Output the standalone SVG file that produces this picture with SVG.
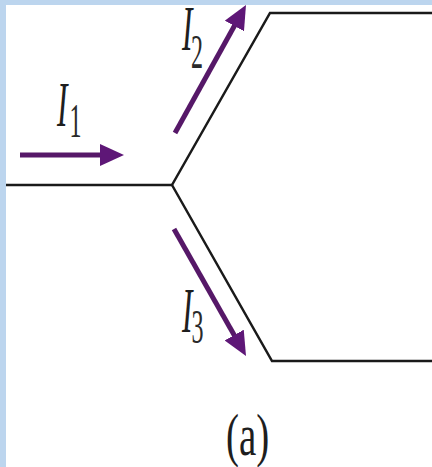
<svg xmlns="http://www.w3.org/2000/svg" width="432" height="467" viewBox="0 0 432 467">
  <defs>
    <style>
      .wire { fill: none; stroke: #1a1a1a; stroke-width: 2.5; stroke-linejoin: miter; }
      .cur { stroke: #561868; stroke-width: 5; stroke-linecap: butt; fill: none; }
      .lbl { font-family: "Liberation Serif", "Times New Roman", serif; font-style: italic; font-size: 42px; fill: #1e1e1e; }
      .sub { font-family: "Liberation Serif", "Times New Roman", serif; font-size: 32px; fill: #2a2a2a; }
      .cap { font-family: "Liberation Serif", "Times New Roman", serif; font-size: 39px; fill: #1e1e1e; }
    </style>
    <marker id="head" viewBox="0 0 24 22" refX="10" refY="11" markerWidth="24" markerHeight="22" markerUnits="userSpaceOnUse" orient="auto">
      <path d="M0,0 L24,11 L0,22 Z" fill="#5e1777"/>
    </marker>
  </defs>

  <rect x="0" y="0" width="432" height="467" fill="#ffffff"/>

  <g id="connectors">
    <path id="wire-in" class="wire" d="M6,185 L172,185"/>
    <path id="wire-up" class="wire" d="M172,185 L270,13 L432,13"/>
    <path id="wire-down" class="wire" d="M172,185 L272,361 L432,361"/>
    <line id="arrow-i1" class="cur" x1="20" y1="155" x2="110" y2="155" marker-end="url(#head)"/>
    <line id="arrow-i2" class="cur" x1="175" y1="133" x2="239.2" y2="17.2" marker-end="url(#head)"/>
    <line id="arrow-i3" class="cur" x1="174" y1="229" x2="239.1" y2="343.8" marker-end="url(#head)"/>
  </g>

  <g id="label-i1">
    <text class="lbl" transform="translate(57,126) scale(0.75,1.5)">I</text>
    <text class="sub" transform="translate(69.5,137) scale(0.75,1.5)">1</text>
  </g>
  <g id="label-i2">
    <text class="lbl" transform="translate(182,50) scale(0.75,1.5)">I</text>
    <text class="sub" transform="translate(191,68) scale(0.75,1.5)">2</text>
  </g>
  <g id="label-i3">
    <text class="lbl" transform="translate(182,332) scale(0.75,1.5)">I</text>
    <text class="sub" transform="translate(191.5,343) scale(0.75,1.5)">3</text>
  </g>
  <g id="caption">
    <text class="cap" transform="translate(226,455) scale(1,1.5)">(a)</text>
  </g>

  <g id="frame">
    <rect x="0" y="0" width="432" height="5" fill="#bcd5ee"/>
    <rect x="0" y="0" width="6" height="467" fill="#bcd5ee"/>
  </g>
</svg>
